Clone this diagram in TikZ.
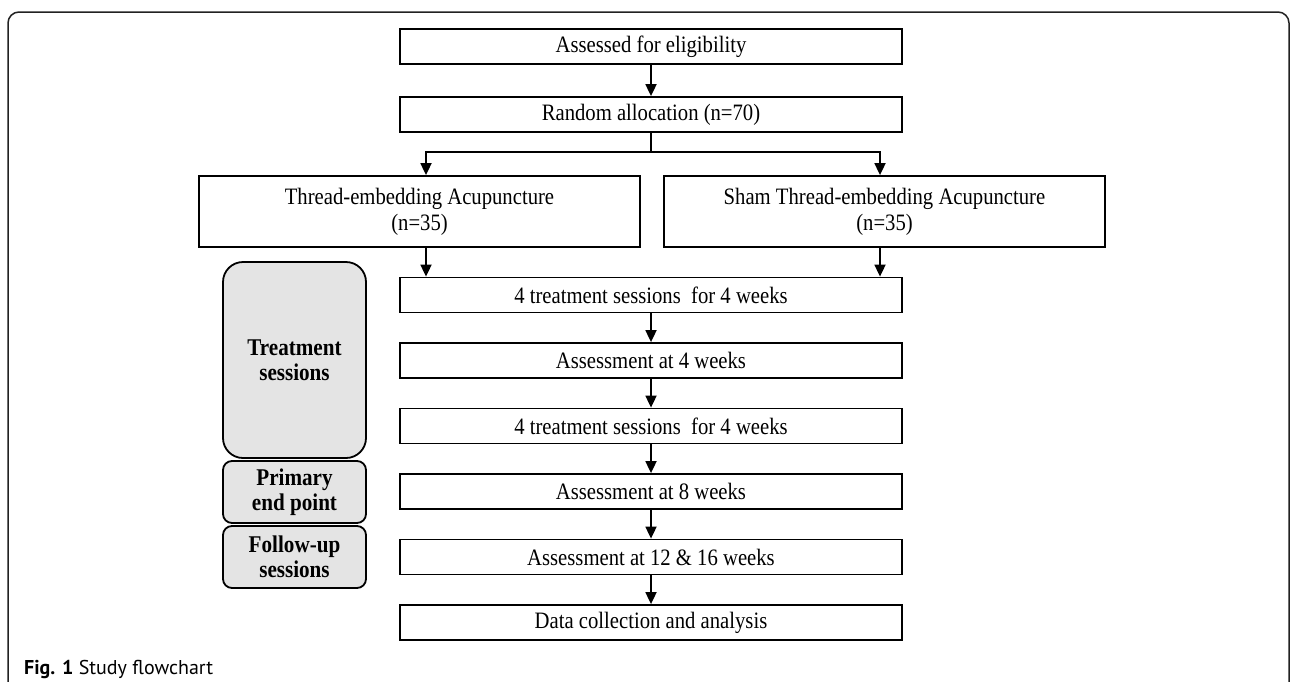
\documentclass[tikz,border=0pt]{standalone}
\usepackage{fontspec}
\setmainfont{Liberation Serif}[FakeStretch=0.88]
\newfontfamily\capfont{PT Sans}
\usetikzlibrary{arrows.meta}
\definecolor{greyfill}{HTML}{E4E4E4}
\definecolor{framecol}{HTML}{222222}
\tikzset{
  mainbox/.style={draw=black, line width=1.8pt, rectangle, minimum width=502pt, minimum height=35pt, inner sep=0pt, font=\fontsize{23.5}{26}\selectfont},
  groupbox/.style={draw=black, line width=1.8pt, rectangle, minimum width=441pt, minimum height=71pt, inner sep=0pt, align=center, font=\fontsize{23.5}{26}\selectfont},
  sidebox/.style={draw=black, line width=1.8pt, rectangle, rounded corners=9pt, fill=greyfill, minimum width=143pt, inner sep=0pt, align=center, font=\fontsize{24}{25}\selectfont\bfseries},
  arr/.style={line width=1.8pt, -{Triangle[length=12pt,width=11pt]}},
  conn/.style={line width=2.6pt},
}
\begin{document}
\begin{tikzpicture}[x=1pt,y=-1pt]
\useasboundingbox (0,0) rectangle (1290,681);
% outer frame
\draw[framecol, line width=1.5pt, rounded corners=11pt] (8,720) -- (8,12) -- (1289,12) -- (1289,720);
% main column
\node[mainbox] (assess) at (651,46.5) {Assessed for eligibility};
\node[mainbox] (random) at (651,114.5) {Random allocation (n=70)};
\node[groupbox] (tea) at (419.5,211.5) {Thread-embedding Acupuncture\\(n=35)};
\node[groupbox] (sham) at (884.5,211.5) {Sham Thread-embedding Acupuncture\\(n=35)};
\node[mainbox] (b1) at (651,295) {4 treatment sessions\ \ for 4 weeks};
\node[mainbox] (b2) at (651,360.5) {Assessment at 4 weeks};
\node[mainbox] (b3) at (651,426) {4 treatment sessions\ \ for 4 weeks};
\node[mainbox] (b4) at (651,491.5) {Assessment at 8 weeks};
\node[mainbox] (b5) at (651,557) {Assessment at 12 \& 16 weeks};
\node[mainbox] (b6) at (651,622.5) {Data collection and analysis};
% side boxes
\node[sidebox, minimum height=196pt, rounded corners=20pt] (treat) at (294.5,360) {Treatment\\sessions};
\node[sidebox, minimum height=62pt] (prim) at (294.5,492) {Primary\\end point};
\node[sidebox, minimum height=62pt] (foll) at (294.5,557) {Follow-up\\sessions};
% connectors
\draw[arr] (assess) -- (random);
\coordinate (br) at (651,152);
\coordinate (brl) at (426,152);
\coordinate (brr) at (880,152);
\draw[conn] (random.south) -- (br);
\draw[conn, line cap=rect] (brl) -- (brr);
\draw[arr] (brl) -- (brl |- tea.north);
\draw[arr] (brr) -- (brr |- sham.north);
\draw[arr] (brl |- tea.south) -- (brl |- b1.north);
\draw[arr] (brr |- sham.south) -- (brr |- b1.north);
\draw[arr] (b1) -- (b2);
\draw[arr] (b2) -- (b3);
\draw[arr] (b3) -- (b4);
\draw[arr] (b4) -- (b5);
\draw[arr] (b5) -- (b6);
% caption
\node[anchor=base west, inner sep=0pt, font=\capfont\fontsize{20}{22}\selectfont] (cap) at (24,674) {\textbf{Fig. 1} Study flowchart};
\end{tikzpicture}
\end{document}
